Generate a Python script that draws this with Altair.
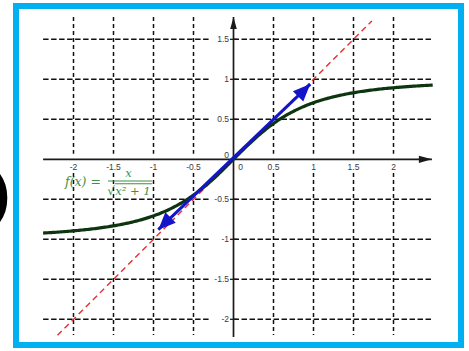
import altair as alt
import numpy as np
import pandas as pd

# Tick positions and their labels
x_ticks = [-2, -1.5, -1, -0.5, 0.5, 1, 1.5, 2]
x_tick_labels = ["-2", "-1.5", "-1", "-0.5", "0.5", "1", "1.5", "2"]
y_ticks = [1.5, 1, 0.5, -0.5, -1, -1.5, -2]
y_tick_labels = ["1.5", "1", "0.5", "-0.5", "-1", "-1.5", "-2"]

# Visible extent of the axes and the grid
x_min, x_max = -2.38, 2.48
y_min, y_max = -2.22, 1.78
grid_left_stop = -0.28          # horizontal grid lines stop before the y labels
grid_gap_top, grid_gap_bottom = 0.07, -0.17   # vertical grid lines break around the x labels
grid_bottom = -2.195

# Dashed reference line y = x
diag_from, diag_to = -2.2, 1.73

# Vector drawn through the origin, arrowheads at both ends
vec_up_tip = (0.96, 0.94)
vec_down_tip = (-0.94, -0.88)

# f(x) = x / sqrt(x^2 + 1) over the drawn range
curve_x = np.linspace(-2.38, 2.49, 240)
curve_y = curve_x / np.sqrt(curve_x ** 2 + 1)

# Plot window in data units
X_DOMAIN = [-2.71875, 2.84375]
Y_DOMAIN = [-2.32125, 1.91625]

# pixel position of the axes inside the view
Y_AXIS_PX = 217.5
X_AXIS_PX = 153.3

GRID = "#111111"
AXIS = "#1a1a1a"
LABEL = "#3a3a3a"
GREEN = "#3f9040"
CURVE = "#0c3510"
BLUE = "#1414c8"
RED = "#e03232"

xs = alt.Scale(domain=X_DOMAIN, nice=False, zero=False)
ys = alt.Scale(domain=Y_DOMAIN, nice=False, zero=False)


def X(f):
    return alt.X(f, type="quantitative", scale=xs, axis=None)


def Y(f):
    return alt.Y(f, type="quantitative", scale=ys, axis=None)


# --- grid ---------------------------------------------------------------
h_rows = []
for v in y_ticks:
    h_rows.append({"y": v, "x": x_min, "x2": grid_left_stop})
    h_rows.append({"y": v, "x": 0.0, "x2": x_max})
h_grid = alt.Chart(pd.DataFrame(h_rows)).mark_rule(
    color=GRID, strokeWidth=1.5, strokeDash=[5.5, 2.5]
).encode(x=X("x"), x2="x2:Q", y=Y("y"))

v_rows = []
for v in x_ticks:
    v_rows.append({"x": v, "y": y_max, "y2": grid_gap_top})
    v_rows.append({"x": v, "y": grid_gap_bottom, "y2": grid_bottom})
v_grid = alt.Chart(pd.DataFrame(v_rows)).mark_rule(
    color=GRID, strokeWidth=1.5, strokeDash=[4, 3]
).encode(x=X("x"), y=Y("y"), y2="y2:Q")

# --- axes ---------------------------------------------------------------
axes_df = pd.DataFrame([
    {"x": x_min, "x2": x_max, "y": 0.0, "y2": 0.0},
    {"x": 0.0, "x2": 0.0, "y": y_min, "y2": y_max},
])
axes = alt.Chart(axes_df).mark_rule(color=AXIS, strokeWidth=1.7).encode(
    x=X("x"), x2="x2:Q", y=Y("y"), y2="y2:Q"
)

x_head = alt.Chart(pd.DataFrame({"x": [x_max], "y": [0.0]})).mark_point(
    shape="M0,0 L-2,-0.55 L-2,0.55 Z", size=169, filled=True, opacity=1, color=AXIS
).encode(x=X("x"), y=Y("y"))
y_head = alt.Chart(pd.DataFrame({"x": [0.0], "y": [y_max]})).mark_point(
    shape="M0,0 L-0.55,2 L0.55,2 Z", size=144, filled=True, opacity=1, color=AXIS
).encode(x=X("x"), y=Y("y"))

y_tick_marks = alt.Chart(pd.DataFrame({"y": y_ticks})).mark_rule(
    color=AXIS, strokeWidth=1.3
).encode(x=alt.value(Y_AXIS_PX - 3.5), x2=alt.value(Y_AXIS_PX + 3.5), y=Y("y"))

# --- y = x ---------------------------------------------------------------
diag = alt.Chart(pd.DataFrame({"x": [diag_from], "y": [diag_from],
                               "x2": [diag_to], "y2": [diag_to]})).mark_rule(
    color=RED, strokeWidth=1.4, strokeDash=[6, 4]
).encode(x=X("x"), y=Y("y"), x2="x2:Q", y2="y2:Q")

# --- f(x) ----------------------------------------------------------------
curve = alt.Chart(pd.DataFrame({"x": curve_x, "y": curve_y})).mark_line(
    color=CURVE, strokeWidth=3.2
).encode(x=X("x"), y=Y("y"), order="x:Q")

# --- vector ------------------------------------------------------------
vec = alt.Chart(pd.DataFrame({"x": [vec_down_tip[0]], "y": [vec_down_tip[1]],
                              "x2": [vec_up_tip[0]], "y2": [vec_up_tip[1]]})).mark_rule(
    color=BLUE, strokeWidth=3
).encode(x=X("x"), y=Y("y"), x2="x2:Q", y2="y2:Q")

heads_df = pd.DataFrame({
    "x": [vec_up_tip[0], vec_down_tip[0]],
    "y": [vec_up_tip[1], vec_down_tip[1]],
    "angle": [315, 135],
})
vec_heads = alt.Chart(heads_df).mark_point(
    shape="M0,0 L-2,-0.85 L-2,0.85 Z", size=300, filled=True, opacity=1, color=BLUE
).encode(x=X("x"), y=Y("y"), angle=alt.Angle("angle:Q", scale=None))

# --- tick labels ---------------------------------------------------------
lab_font = dict(font="Liberation Sans", fontSize=8.5, color=LABEL)
x_labels = alt.Chart(pd.DataFrame({"x": x_ticks, "t": x_tick_labels})).mark_text(
    align="center", baseline="middle", dy=7.5, **lab_font
).encode(x=X("x"), y=alt.value(X_AXIS_PX), text="t:N")
y_labels = alt.Chart(pd.DataFrame({"y": y_ticks, "t": y_tick_labels})).mark_text(
    align="right", baseline="middle", dx=-4.5, **lab_font
).encode(x=alt.value(Y_AXIS_PX), y=Y("y"), text="t:N")
zero_x = alt.Chart(pd.DataFrame({"x": [0.0], "t": ["0"]})).mark_text(
    align="center", baseline="middle", dx=7, dy=7.5, **lab_font
).encode(x=X("x"), y=alt.value(X_AXIS_PX), text="t:N")
zero_y = alt.Chart(pd.DataFrame({"y": [0.0], "t": ["0"]})).mark_text(
    align="right", baseline="middle", dx=-4.5, dy=-4.5, **lab_font
).encode(x=alt.value(Y_AXIS_PX), y=Y("y"), text="t:N")

# --- formula label f(x) = x / sqrt(x^2 + 1) -------------------------------
f_font = dict(font="DejaVu Serif", color=GREEN, baseline="middle")
f_lhs = alt.Chart(pd.DataFrame({"x": [-2.106], "y": [-0.284], "t": ["f(x)  ="]})).mark_text(
    align="left", fontSize=12.5, fontStyle="italic", **f_font
).encode(x=X("x"), y=Y("y"), text="t:N")
f_num = alt.Chart(pd.DataFrame({"x": [-1.3125], "y": [-0.185], "t": ["x"]})).mark_text(
    align="center", fontSize=11.5, fontStyle="italic", **f_font
).encode(x=X("x"), y=Y("y"), text="t:N")
f_root = alt.Chart(pd.DataFrame({"x": [-1.531], "y": [-0.39], "t": ["√"]})).mark_text(
    align="center", fontSize=12, **f_font
).encode(x=X("x"), y=Y("y"), text="t:N")
f_den = alt.Chart(pd.DataFrame({"x": [-1.478], "y": [-0.405], "t": ["x² + 1"]})).mark_text(
    align="left", fontSize=11.5, fontStyle="italic", **f_font
).encode(x=X("x"), y=Y("y"), text="t:N")
f_bars = alt.Chart(pd.DataFrame({"x": [-1.569, -1.481], "x2": [-1.02, -1.02],
                                 "y": [-0.271, -0.305]})).mark_rule(
    color=GREEN, strokeWidth=1.1
).encode(x=X("x"), x2="x2:Q", y=Y("y"))

# closing parenthesis at the left edge of the page
paren = alt.Chart(pd.DataFrame({"t": [")"]})).mark_text(
    align="right", baseline="middle", font="Liberation Sans", fontSize=54,
    fontWeight="bold", color="#000000"
).encode(x=alt.value(-6), y=alt.value(190), text="t:N")

chart = alt.layer(
    h_grid, v_grid, axes, y_tick_marks, x_head, y_head,
    diag, curve, vec, vec_heads,
    x_labels, y_labels, zero_x, zero_y,
    f_lhs, f_num, f_root, f_den, f_bars,
    paren,
).properties(
    width=445,
    height=339,
    padding={"left": 16, "top": 6, "right": 8, "bottom": 6},
    autosize=alt.AutoSizeParams(type="none"),
    background="white",
).configure_view(stroke="#00b0f0", strokeWidth=6)

chart.save("out.html", embed_options={"renderer": "svg", "actions": False})
